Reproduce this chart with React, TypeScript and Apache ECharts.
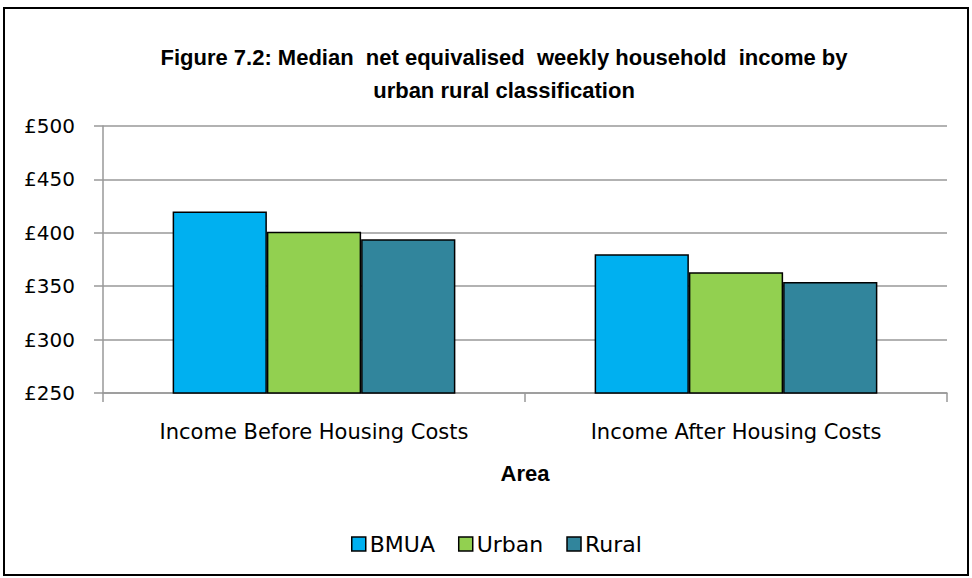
import React, { useEffect, useRef } from "react";
import * as echarts from "echarts";

const categories = ["Income Before Housing Costs", "Income After Housing Costs"];
const seriesNames = ["BMUA", "Urban", "Rural"];
const bmua = [420, 380];
const urban = [401, 363];
const rural = [394, 354];
const yTicks = { min: 250, max: 500, interval: 50 };
const colors = ["#00B0F0", "#92D050", "#31859C"];

export default function App() {
  const ref = useRef<HTMLDivElement>(null);
  useEffect(() => {
    const chart = echarts.init(ref.current!, null, { renderer: "svg" });
    const values = [bmua, urban, rural];
    const font = "DejaVu Sans";
    chart.setOption({
      animation: false,
      backgroundColor: "#ffffff",
      title: {
        text: "Figure 7.2: Median  net equivalised  weekly household  income by\nurban rural classification",
        left: 499,
        top: 36,
        textAlign: "center",
        textStyle: {
          fontFamily: "Liberation Sans",
          fontWeight: "bold",
          fontSize: 22,
          lineHeight: 33,
          color: "#000",
        },
      },
      graphic: [
        {
          type: "rect",
          shape: { x: 4, y: 8, width: 964, height: 567 },
          style: { fill: "none", stroke: "#000", lineWidth: 2 },
          silent: true,
          z: 100,
        },
      ],
      legend: {
        bottom: 18,
        left: 346,
        itemWidth: 14,
        itemHeight: 14,
        itemGap: 23,
        icon: "rect",
        data: seriesNames.map((n) => ({ name: n, itemStyle: { borderColor: "#000", borderWidth: 1.5 } })),
        textStyle: { fontFamily: font, fontSize: 22, color: "#000", padding: [0, 0, 0, -1] },
      },
      grid: { left: 103, right: 25, top: 126, bottom: 185 },
      xAxis: {
        type: "category",
        data: categories,
        name: "Area",
        nameLocation: "middle",
        nameGap: 69,
        nameTextStyle: { fontFamily: "Liberation Sans", fontWeight: "bold", fontSize: 22, color: "#000" },
        axisLine: { lineStyle: { color: "#999", width: 1.5 } },
        axisTick: { show: true, length: 9, lineStyle: { color: "#999", width: 1.5 } },
        axisLabel: { fontFamily: font, fontSize: 21, color: "#000", margin: 28 },
      },
      yAxis: {
        type: "value",
        min: yTicks.min,
        max: yTicks.max,
        interval: yTicks.interval,
        axisLine: { show: true, lineStyle: { color: "#999", width: 1.5 } },
        axisTick: { show: true, length: 9, lineStyle: { color: "#999", width: 1.5 } },
        splitLine: { lineStyle: { color: "#999", width: 1.5 } },
        axisLabel: {
          fontFamily: font,
          fontSize: 20,
          color: "#000",
          margin: 28,
          formatter: (v: number) => "£" + v,
        },
      },
      series: seriesNames.map((n, i) => ({
        name: n,
        type: "bar",
        data: values[i],
        barGap: "0%",
        barCategoryGap: "33%",
        itemStyle: { color: colors[i], borderColor: "#000", borderWidth: 1.5 },
      })),
    });
    return () => chart.dispose();
  }, []);
  return (
    <div
      ref={ref}
      style={{ position: "fixed", left: 0, top: 0, width: 972, height: 578 }}
    />
  );
}
